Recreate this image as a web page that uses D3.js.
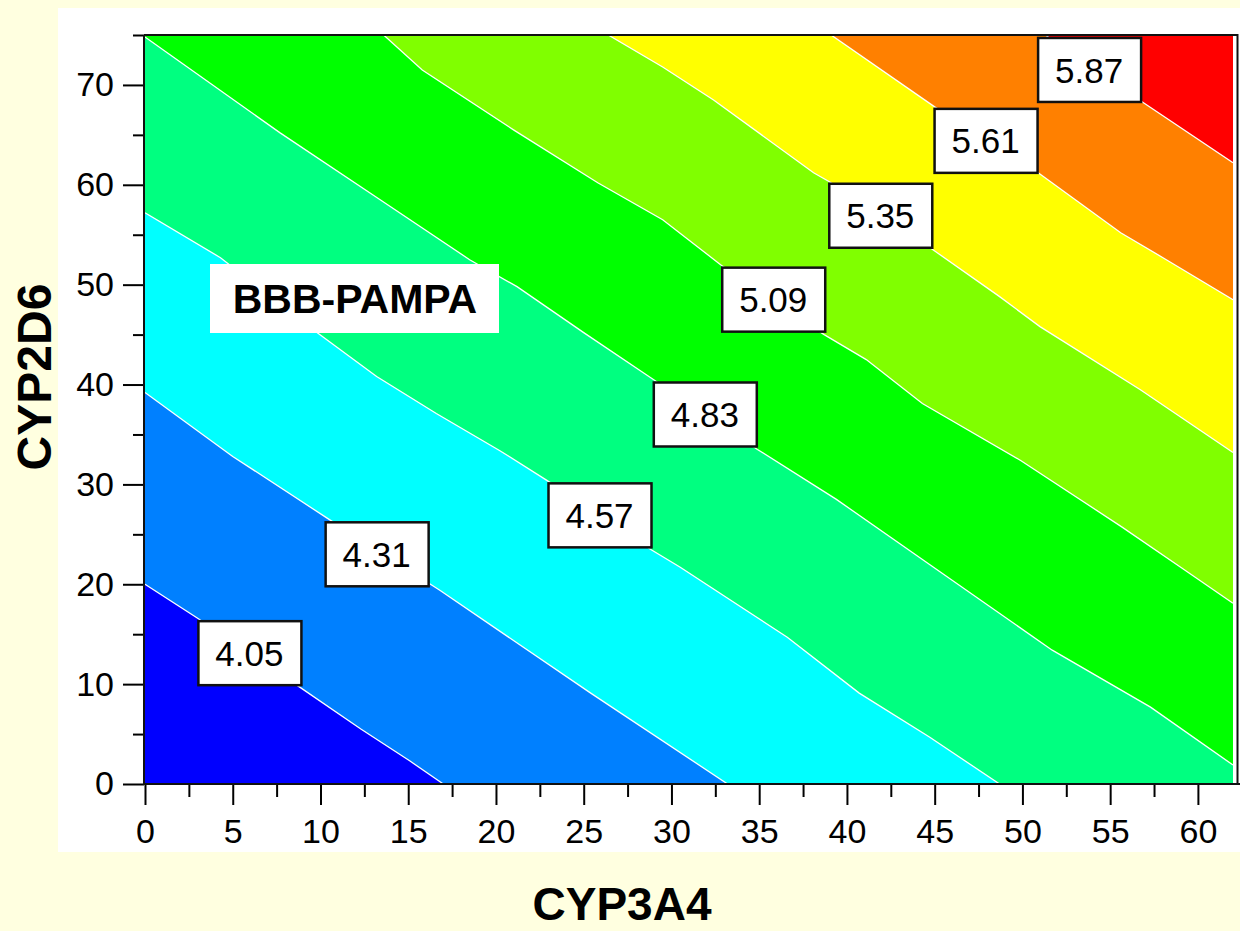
<!DOCTYPE html>
<meta charset="utf-8">
<style>
    body { margin: 0; background: #ffffe0; }
    text { font-family: "Liberation Sans", Arial, sans-serif; }
</style>
<script src="https://d3js.org/d3.v7.min.js"></script>
<body>
<script>
    // axis ticks
    var xMajor = [0, 5, 10, 15, 20, 25, 30, 35, 40, 45, 50, 55, 60];
    var xMinor = [2.5, 7.5, 12.5, 17.5, 22.5, 27.5, 32.5, 37.5, 42.5, 47.5, 52.5, 57.5];
    var yMajor = [0, 10, 20, 30, 40, 50, 60, 70];
    var yMinor = [5, 15, 25, 35, 45, 55, 65, 75];

    // contour levels and the colour of the band above each one (first = below lowest level)
    var levels = [4.05, 4.31, 4.57, 4.83, 5.09, 5.35, 5.61, 5.87];
    var bandColors = ["#0000ff", "#0080ff", "#00ffff", "#00ff80", "#00ff00", "#80ff00", "#ffff00", "#ff8000", "#ff0000"];

    // contour lines, [CYP3A4, CYP2D6]
    var c405 = [[0, 20.0], [3.0, 16.6], [8.9, 9.6], [12.3, 5.5], [15.1, 2.3], [17.0, 0]];
    var c431 = [[0, 39.2], [5.0, 32.8], [10.4, 26.6], [16.8, 19.4], [25.4, 9.1], [33.2, 0]];
    var c457 = [[0, 57.2], [4.3, 52.7], [9.8, 45.2], [13.2, 40.8], [16.6, 37.1], [20.2, 33.4], [22.9, 30.4],
                [28.8, 23.5], [30.5, 21.7], [36.6, 14.7], [40.7, 9.1], [44.7, 4.7], [48.7, 0]];
    var c483 = [[0, 74.8], [7.7, 65.2], [13.4, 58.5], [18.5, 52.5], [21.2, 49.8], [25.0, 45.2], [28.8, 40.7],
                [34.9, 33.5], [39.4, 28.5], [44.2, 22.6], [51.7, 13.4], [57.3, 7.7], [62, 1.9]];
    var c509 = [[13.6, 75], [15.8, 71.5], [21.0, 65.5], [25.8, 60.2], [29.5, 56.5], [32.8, 52.0], [38.7, 45.0],
                [41.1, 42.5], [44.3, 38.1], [49.9, 32.4], [55.7, 25.7], [59.1, 21.6], [62, 18.1]];
    var c535 = [[26.4, 75], [29.5, 71.8], [32.4, 68.5], [38.1, 61.2], [39.0, 60.3], [44.9, 53.5], [48.7, 48.8],
                [51.0, 45.8], [56.7, 39.5], [62, 33.2]];
    var c561 = [[39.1, 75], [45.0, 67.8], [50.9, 61.2], [55.6, 55.2], [58.2, 52.5], [62, 48.5]];
    var c587 = [[51.3, 75], [56.75, 68.4], [62, 62.2]];
    var contourLines = [c405, c431, c457, c483, c509, c535, c561, c587];

    // where each contour value is written
    var labelAt = [[5.95, 13.1], [13.2, 23.0], [25.9, 26.9], [31.9, 37.0], [35.8, 48.5], [41.9, 56.9], [47.9, 64.4], [53.8, 71.5]];

    var width = 1240;
    var height = 931;
    var xMax = 62, yMax = 75;

    var x = d3.scaleLinear().domain([0, xMax]).range([145, 1233]);
    var y = d3.scaleLinear().domain([0, yMax]).range([784, 35]);

    var svg = d3.select("body").append("svg")
        .attr("width", width)
        .attr("height", height);

    svg.append("rect")
        .attr("x", 58).attr("y", 8)
        .attr("width", 1182).attr("height", 844)
        .attr("fill", "#fff");

    svg.append("clipPath").attr("id", "plot")
        .append("rect")
        .attr("x", x(0)).attr("y", y(yMax))
        .attr("width", x(xMax) - x(0)).attr("height", y(0) - y(yMax));

    var plot = svg.append("g").attr("clip-path", "url(#plot)");

    var toPx = d3.line().x(function(d) { return x(d[0]); }).y(function(d) { return y(d[1]); });

    // region on the high (upper right) side of a contour line
    function upperRegion(line) {
        var s = line[0], e = line[line.length - 1];
        var pts = line.slice();
        if (e[1] <= 0) pts.push([xMax, 0]);
        pts.push([xMax, yMax]);
        if (s[0] <= 0) pts.push([0, yMax]);
        return pts;
    }

    plot.append("rect")
        .attr("x", x(0)).attr("y", y(yMax))
        .attr("width", x(xMax) - x(0)).attr("height", y(0) - y(yMax))
        .attr("fill", bandColors[0]);

    plot.selectAll("path.band")
        .data(contourLines)
        .enter()
        .append("path")
        .attr("class", "band")
        .attr("d", function(d) { return toPx(upperRegion(d)) + "Z"; })
        .attr("fill", function(d, i) { return bandColors[i + 1]; });

    plot.selectAll("path.iso")
        .data(contourLines)
        .enter()
        .append("path")
        .attr("class", "iso")
        .attr("d", toPx)
        .attr("fill", "none")
        .attr("stroke", "#fff")
        .attr("stroke-width", 1.3);

    // axes
    function styleAxis(g) {
        g.select(".domain").remove();
        g.selectAll("line").attr("stroke", "#000").attr("stroke-width", 2);
        g.selectAll("text").attr("fill", "#000").style("font-size", "34px")
            .style("font-family", '"Liberation Sans", Arial, sans-serif');
    }

    svg.append("g").attr("transform", "translate(0,784)")
        .call(d3.axisBottom(x).tickValues(xMajor).tickSize(21).tickPadding(14).tickFormat(d3.format("d")))
        .call(styleAxis);
    svg.append("g").attr("transform", "translate(0,784)")
        .call(d3.axisBottom(x).tickValues(xMinor).tickSize(13).tickFormat(""))
        .call(styleAxis);
    svg.append("g").attr("transform", "translate(144,0)")
        .call(d3.axisLeft(y).tickValues(yMajor).tickSize(21).tickPadding(9).tickFormat(d3.format("d")))
        .call(styleAxis);
    svg.append("g").attr("transform", "translate(144,0)")
        .call(d3.axisLeft(y).tickValues(yMinor).tickSize(11).tickFormat(""))
        .call(styleAxis);

    // frame
    svg.append("path")
        .attr("d", "M144," + y(yMax) + "V" + y(0) + "H1240M144," + y(yMax) + "H1237.5V" + y(0))
        .attr("fill", "none")
        .attr("stroke", "#111")
        .attr("stroke-width", 2);

    // contour value boxes
    var labels = svg.selectAll("g.lab")
        .data(levels)
        .enter()
        .append("g")
        .attr("class", "lab")
        .attr("transform", function(d, i) { return "translate(" + x(labelAt[i][0]) + "," + y(labelAt[i][1]) + ")"; });

    labels.append("rect")
        .attr("x", -51).attr("y", -32)
        .attr("width", 103).attr("height", 64)
        .attr("fill", "#fff")
        .attr("stroke", "#111")
        .attr("stroke-width", 2.5);

    labels.append("text")
        .attr("text-anchor", "middle")
        .attr("dy", "0.36em")
        .style("font-size", "35px")
        .text(function(d) { return d3.format(".2f")(d); });

    // title box
    svg.append("rect")
        .attr("x", 210).attr("y", 264)
        .attr("width", 289).attr("height", 69)
        .attr("fill", "#fff");
    svg.append("text")
        .attr("x", 355).attr("y", 313)
        .attr("text-anchor", "middle")
        .style("font-size", "41px").style("font-weight", "bold")
        .text("BBB-PAMPA");

    // axis titles
    svg.append("text")
        .attr("x", 622).attr("y", 920)
        .attr("text-anchor", "middle")
        .style("font-size", "46px").style("font-weight", "bold")
        .text("CYP3A4");
    svg.append("text")
        .attr("transform", "translate(51,377) rotate(-90)")
        .attr("text-anchor", "middle")
        .style("font-size", "48px").style("font-weight", "bold")
        .text("CYP2D6");
</script>
